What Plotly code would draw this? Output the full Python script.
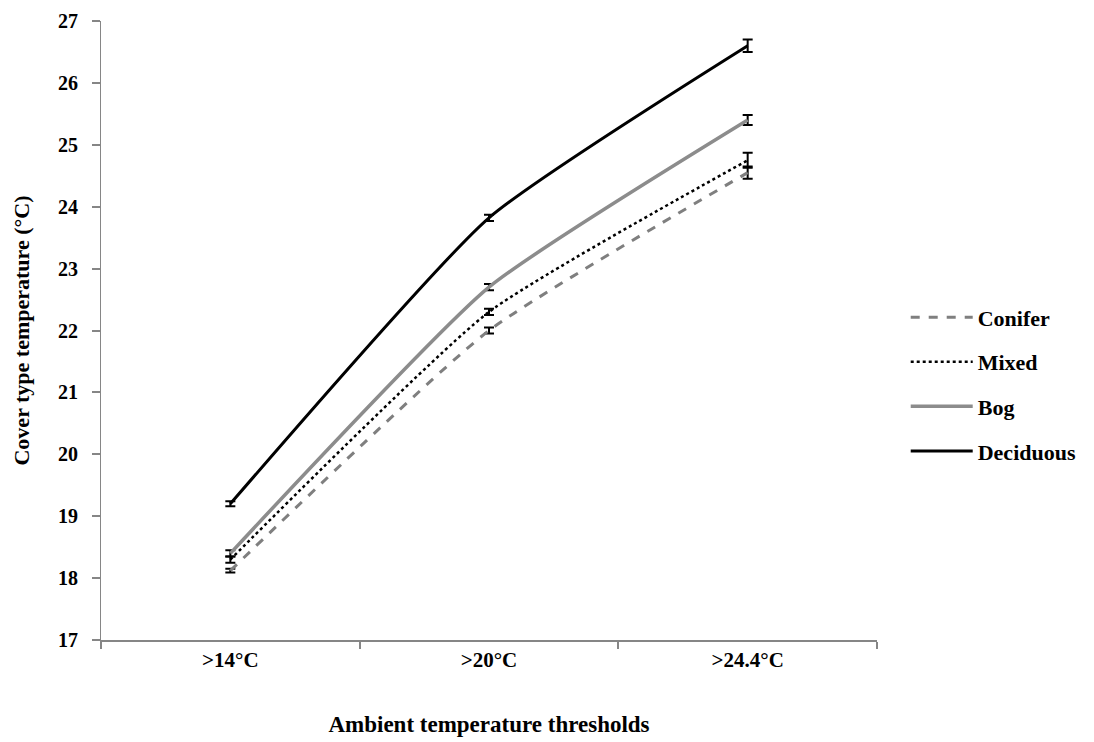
import plotly.graph_objects as go

categories = [">14°C", ">20°C", ">24.4°C"]
series_names = ["Conifer", "Mixed", "Bog", "Deciduous"]
conifer = [18.12, 22.0, 24.55]
mixed = [18.3, 22.3, 24.75]
bog = [18.4, 22.7, 25.4]
deciduous = [19.2, 23.82, 26.6]
conifer_err = [0.03, 0.05, 0.1]
mixed_err = [0.05, 0.05, 0.12]
bog_err = [0.05, 0.05, 0.08]
deciduous_err = [0.04, 0.05, 0.1]
y_ticks = [17, 18, 19, 20, 21, 22, 23, 24, 25, 26, 27]

styles = {
    "Conifer": dict(color="#7f7f7f", dash="dash", width=3),
    "Mixed": dict(color="#000000", dash="dot", width=2.5),
    "Bog": dict(color="#8c8c8c", dash="solid", width=3.5),
    "Deciduous": dict(color="#000000", dash="solid", width=3),
}
data = {"Conifer": (conifer, conifer_err), "Mixed": (mixed, mixed_err),
        "Bog": (bog, bog_err), "Deciduous": (deciduous, deciduous_err)}

FONT = "Liberation Serif"
fig = go.Figure()
for name in series_names:
    vals, errs = data[name]
    fig.add_trace(go.Scatter(
        x=categories, y=vals, mode="lines", name=f"<b>{name}</b>", legendgroup=name,
        line=dict(**styles[name], shape="spline", smoothing=0.5),
        error_y=dict(type="data", array=errs, visible=True, color="#000000",
                     thickness=2, width=5),
    ))

fig.update_layout(
    width=1094, height=742,
    margin=dict(l=93, r=225, t=13, b=110),
    paper_bgcolor="white", plot_bgcolor="white",
    font=dict(family=FONT, size=20, color="black"),
    showlegend=True,
    legend=dict(x=1.037, y=0.413, xanchor="left", yanchor="middle",
                font=dict(family=FONT, size=22, color="black"),
                tracegroupgap=13, itemwidth=62, bgcolor="rgba(0,0,0,0)"),
    xaxis=dict(
        type="category", range=[-0.5, 2.5], tickson="boundaries",
        showline=True, linecolor="#868686", linewidth=2,
        ticks="outside", ticklen=7, tickcolor="#868686", tickwidth=2,
        showgrid=False, zeroline=False, automargin=False,
        tickfont=dict(family=FONT, size=21, color="black"),
        title=dict(text="<b>Ambient temperature thresholds</b>", standoff=45,
                   font=dict(family=FONT, size=23, color="black")),
    ),
    yaxis=dict(
        range=[17, 27], tickvals=y_ticks,
        ticktext=[f"<b>{v}</b>" for v in y_ticks],
        showline=True, linecolor="#868686", linewidth=1,
        ticks="outside", ticklen=8, tickcolor="#868686", tickwidth=2,
        ticklabelstandoff=10, ticklabeloverflow="allow",
        showgrid=False, zeroline=False, automargin=False,
        tickfont=dict(family=FONT, size=20, color="black"),
        title=dict(text="<b>Cover type temperature (°C)</b>", standoff=22,
                   font=dict(family=FONT, size=22, color="black")),
    ),
)
fig.update_xaxes(ticktext=[f"<b>{c}</b>" for c in categories], tickvals=categories)
fig.write_html("out.html")
